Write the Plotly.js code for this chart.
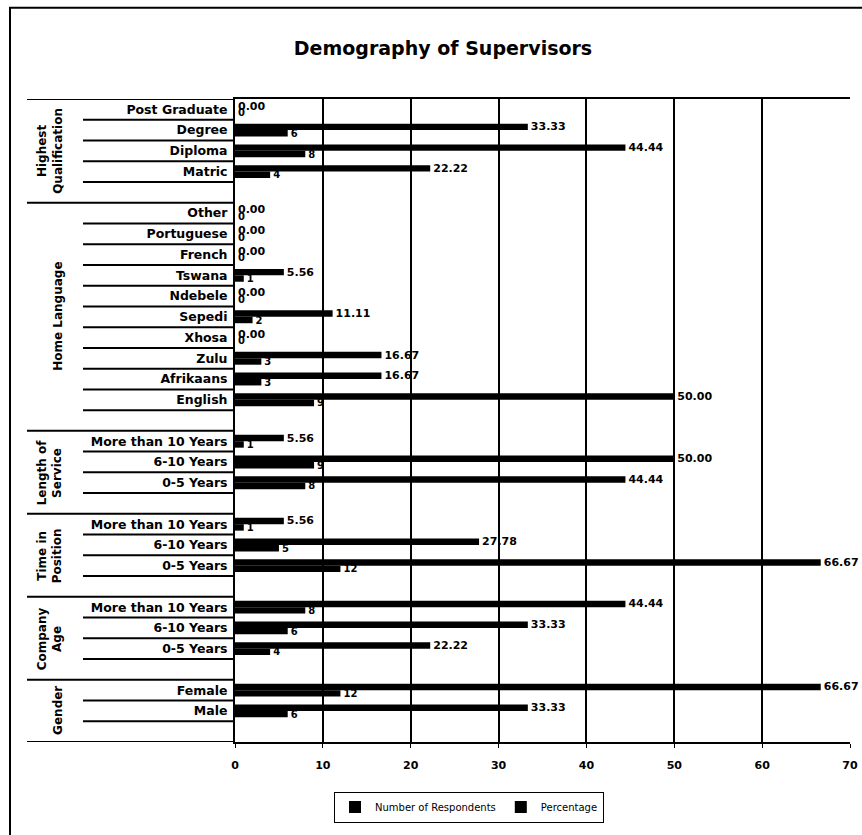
<!DOCTYPE html>
<html>
<head>
<meta charset="utf-8">
<script src="https://cdn.plot.ly/plotly-3.0.1.min.js"></script>
<style>
html,body{margin:0;padding:0;background:#fff;}
#chart{width:862px;height:835px;}
</style>
</head>
<body>
<div id="chart"></div>
<script>
// Row labels, top to bottom ('' = blank spacer row)
const rowLabels = ['Post Graduate','Degree','Diploma','Matric','',
  'Other','Portuguese','French','Tswana','Ndebele','Sepedi','Xhosa','Zulu','Afrikaans','English','',
  'More than 10 Years','6-10 Years','0-5 Years','',
  'More than 10 Years','6-10 Years','0-5 Years','',
  'More than 10 Years','6-10 Years','0-5 Years','',
  'Female','Male',''];
const respondents = [0,6,8,4,null,
  0,0,0,1,0,2,0,3,3,9,null,
  1,9,8,null,
  1,5,12,null,
  8,6,4,null,
  12,6,null];
const percentage = [0,33.33,44.44,22.22,null,
  0,0,0,5.56,0,11.11,0,16.67,16.67,50.00,null,
  5.56,50.00,44.44,null,
  5.56,27.78,66.67,null,
  44.44,33.33,22.22,null,
  66.67,33.33,null];
const groupNames = ['Highest<br>Qualification','Home Language','Length of<br>Service','Time in<br>Position','Company<br>Age','Gender'];
const groupSizes = [5,11,4,4,4,3];
const xTicks = [0,10,20,30,40,50,60,70];

const N = rowLabels.length;
const yPos = rowLabels.map((_, i) => N - 1 - i);

const L = 235, R = 12, T = 99, B = 88, W = 862, H = 835;
const pw = W - L - R, ph = H - T - B;
const px2x = p => (p - L) / pw;
const px2y = p => (H - B - p) / ph;

const bold = {family: 'DejaVu Sans', size: 11, color: '#000', weight: 'bold'};

const traces = [
  {type:'bar', orientation:'h', name:'Number of Respondents', y:yPos, x:respondents,
   marker:{color:'#000'}, text:respondents.map(v => v === null ? '' : String(v)),
   textposition:'outside', cliponaxis:false, constraintext:'none',
   textfont:{family:'DejaVu Sans', size:10, color:'#000', weight:'bold'}, hoverinfo:'x'},
  {type:'bar', orientation:'h', name:'Percentage', y:yPos, x:percentage,
   marker:{color:'#000'}, text:percentage.map(v => v === null ? '' : v.toFixed(2)),
   textposition:'outside', cliponaxis:false, constraintext:'none',
   textfont:{family:'DejaVu Sans', size:11, color:'#000', weight:'bold'}, hoverinfo:'x'}
];

// separators & group labels
const shapes = [];
const annotations = [];
const groupStarts = [];
let s = 0;
groupSizes.forEach(g => { groupStarts.push(s); s += g; });
const xGroup = px2x(27), xInner = px2x(83);
for (let i = 0; i <= N; i++) {
  const yb = N - i - 0.5;
  const isGroup = groupStarts.includes(i) || i === N;
  shapes.push({type:'line', xref:'paper', yref:'y', x0:isGroup ? xGroup : xInner, x1:0, y0:yb, y1:yb,
    line:{color:'#000', width:2}});
}
groupNames.forEach((g, k) => {
  const c = groupStarts[k] + (groupSizes[k] - 1) / 2;
  const two = g.indexOf('<br>') >= 0;
  annotations.push({xref:'paper', yref:'y', x:px2x(two ? 50 : 58), y:N - 1 - c, text:g,
    showarrow:false, textangle:-90, font:{family:'DejaVu Sans', size:12, color:'#000', weight:'bold'},
    xanchor:'center', yanchor:'middle'});
});
// outer frame
shapes.push({type:'rect', xref:'paper', yref:'paper', x0:px2x(10), x1:px2x(875), y0:px2y(7), y1:px2y(845),
  line:{color:'#000', width:2}, fillcolor:'rgba(0,0,0,0)'});

const layout = {
  width: W, height: H,
  margin: {l:L, r:R, t:T, b:B},
  paper_bgcolor:'#fff', plot_bgcolor:'#fff',
  title: {text:'Demography of Supervisors', x:443/W, xanchor:'center', y:1 - 48/H, yanchor:'middle',
    font:{family:'DejaVu Sans', size:19, color:'#000', weight:'bold'}},
  barmode:'group', bargap:0.38, bargroupgap:0,
  xaxis: {range:[0,70], tickvals:xTicks, showgrid:true, gridcolor:'#000', gridwidth:2,
    showline:true, linecolor:'#000', linewidth:2, mirror:true, zeroline:false,
    ticks:'outside', ticklen:4, tickcolor:'#000', ticklabelstandoff:8, tickfont:bold, fixedrange:true},
  yaxis: {range:[-0.5, N - 0.5], tickvals:yPos, ticktext:rowLabels, showgrid:false, zeroline:false,
    showline:true, linecolor:'#000', linewidth:2, ticks:'', ticklabelstandoff:3,
    tickfont:{family:'DejaVu Sans', size:12.5, color:'#000', weight:'bold'}, fixedrange:true},
  showlegend:true,
  legend: {orientation:'h', x:px2x(469), xanchor:'center', y:px2y(797), yanchor:'top',
    bordercolor:'#000', borderwidth:1, itemwidth:30, font:{family:'DejaVu Sans', size:10, color:'#000'}},
  shapes: shapes, annotations: annotations
};
Plotly.newPlot('chart', traces, layout, {displayModeBar:false, staticPlot:true});
</script>
</body>
</html>
